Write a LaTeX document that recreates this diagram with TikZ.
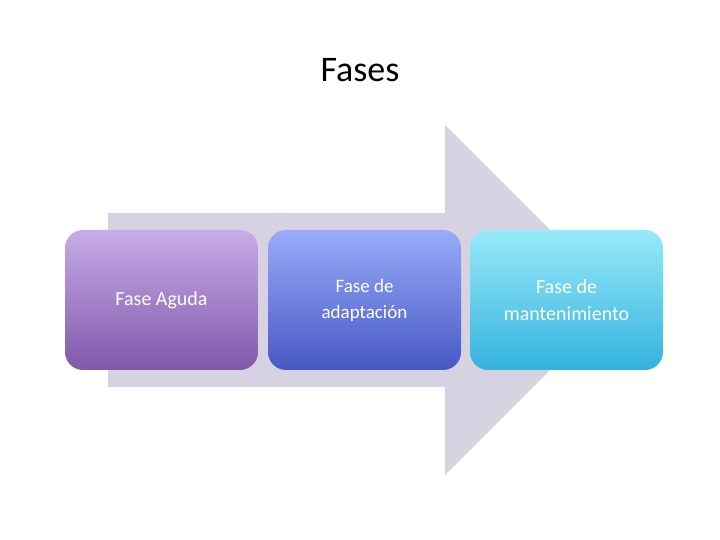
\documentclass[tikz,border=0pt]{standalone}
\usepackage{fontspec}
\setmainfont{Carlito}
\definecolor{arrowgray}{RGB}{214,210,225}
\tikzset{
  fase/.style={rounded corners=18pt, minimum width=193pt, minimum height=140pt,
    text=white, align=center, inner sep=0pt, font=\fontsize{20}{21}\selectfont}
}
\begin{document}
\begin{tikzpicture}[x=1pt,y=1pt]
\useasboundingbox (0,0) rectangle (720,540);
\node (titulo) at (360,470) {\fontsize{36}{40}\selectfont Fases};
% flecha de fondo
\fill[arrowgray] (108,153) -- (108,327) -- (445,327) -- (445,415) -- (620,240)
  -- (445,65) -- (445,153) -- cycle;
% fases
\node[fase, top color={rgb,255:red,200;green,172;blue,232}, bottom color={rgb,255:red,128;green,88;blue,170}]
  (aguda) at (161.5,240) {Fase Aguda};
\node[fase, top color={rgb,255:red,152;green,172;blue,250}, bottom color={rgb,255:red,70;green,88;blue,195},
  font=\fontsize{19}{26}\selectfont]
  (adaptacion) at (364.5,240) {Fase de\\adaptación};
\node[fase, top color={rgb,255:red,152;green,234;blue,250}, bottom color={rgb,255:red,52;green,178;blue,220},
  font=\fontsize{20}{27}\selectfont]
  (mantenimiento) at (566.5,240) {Fase de\\mantenimiento};
\end{tikzpicture}
\end{document}
